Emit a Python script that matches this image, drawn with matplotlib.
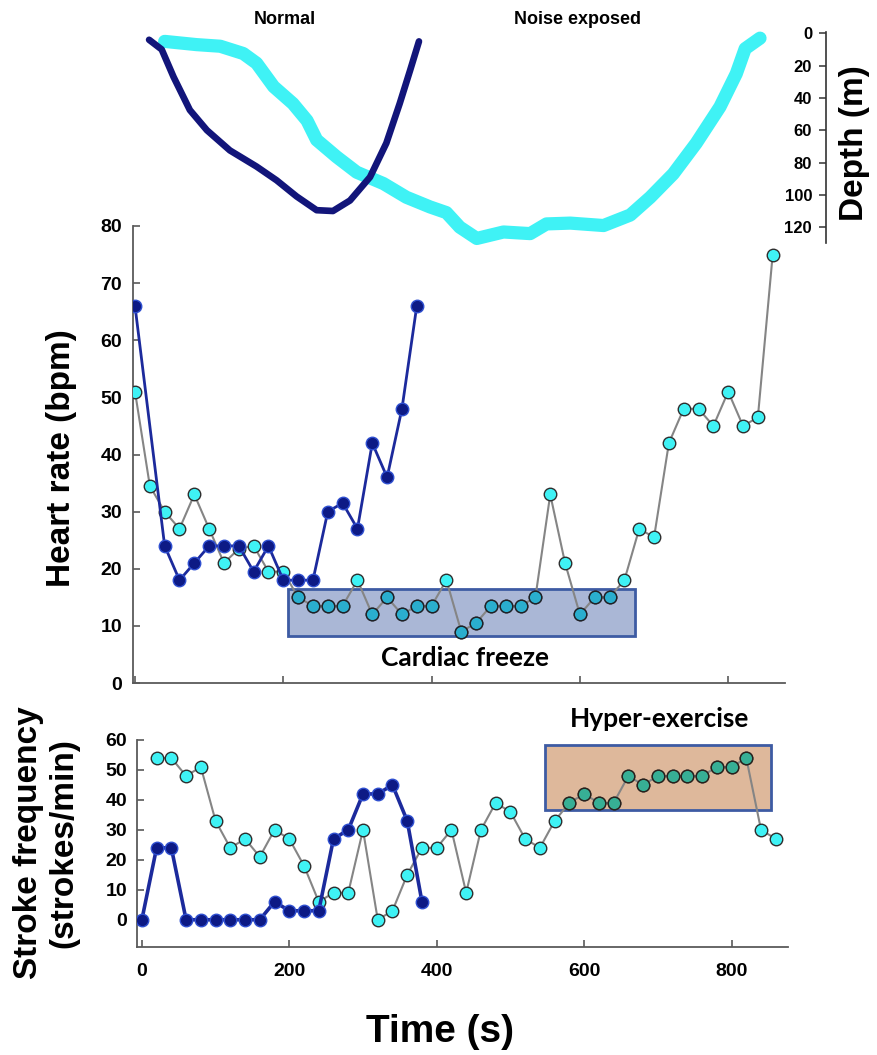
import matplotlib.pyplot as plt
import numpy as np
from matplotlib.colors import to_rgb
from matplotlib.patches import Rectangle

plt.rcParams["font.family"] = ["Liberation Sans", "DejaVu Sans"]
plt.rcParams["font.weight"] = "bold"

# --- heart rate (bpm) ---
hr_noise_time = [0, 20, 40, 60, 80, 100, 120, 140, 160, 180, 200, 220, 240, 260, 280,
                 300, 320, 340, 360, 380, 400, 420, 440, 460, 480, 500, 520, 540, 560,
                 580, 600, 620, 640, 660, 680, 700, 720, 740, 760, 780, 800, 820, 840, 860]
hr_noise = [51, 34.5, 30, 27, 33, 27, 21, 23.5, 24, 19.5, 19.5, 15, 13.5, 13.5, 13.5,
            18, 12, 15, 12, 13.5, 13.5, 18, 9, 10.5, 13.5, 13.5, 13.5, 15, 33,
            21, 12, 15, 15, 18, 27, 25.5, 42, 48, 48, 45, 51, 45, 46.5, 75]
hr_normal_time = [0, 40, 60, 80, 100, 120, 140, 160, 180, 200, 220, 240, 260, 280,
                  300, 320, 340, 360, 380]
hr_normal = [66, 24, 18, 21, 24, 24, 24, 19.5, 24, 18, 18, 18, 30, 31.5,
             27, 42, 36, 48, 66]

# --- stroke frequency (strokes/min) ---
sf_noise_time = [20, 40, 60, 80, 100, 120, 140, 160, 180, 200, 220, 240, 260, 280,
                 300, 320, 340, 360, 380, 400, 420, 440, 460, 480, 500, 520, 540, 560,
                 580, 600, 620, 640, 660, 680, 700, 720, 740, 760, 780, 800, 820, 840, 860]
sf_noise = [54, 54, 48, 51, 33, 24, 27, 21, 30, 27, 18, 6, 9, 9,
            30, 0, 3, 15, 24, 24, 30, 9, 30, 39, 36, 27, 24, 33,
            39, 42, 39, 39, 48, 45, 48, 48, 48, 48, 51, 51, 54, 30, 27]
sf_normal_time = [0, 20, 40, 60, 80, 100, 120, 140, 160, 180, 200, 220, 240, 260,
                  280, 300, 320, 340, 360, 380]
sf_normal = [0, 24, 24, 0, 0, 0, 0, 0, 0, 6, 3, 3, 3, 27, 30, 42, 42, 45, 33, 6]

# --- dive profiles (time s, depth m) ---
depth_normal_time = [19, 36, 52, 74, 97, 128, 164, 191, 218, 245, 267, 290, 317, 339,
                     357, 371, 383]
depth_normal = [4, 10, 27, 47.5, 60, 72.5, 82.5, 91, 101, 109.5, 110, 103.5, 89, 68,
                43.5, 23, 5]
depth_noise_time = [40, 83, 115, 146, 164, 187, 213, 232, 245, 272, 299, 335, 366, 398,
                    420, 438, 461, 497, 533, 555, 587, 632, 668, 695, 726, 757, 789,
                    811, 823, 843]
depth_noise = [5, 7, 8, 12.5, 18.5, 33, 43.5, 54, 66, 76.5, 86, 93, 101.5, 107.5,
               111, 120, 127, 123, 124, 118, 117.5, 119, 112.5, 101.5, 87, 68, 45.5,
               25, 9.5, 3]

# shaded phases: (t0, t1, y0, y1)
freeze_box = (206, 674, 8.2, 16.4)
hyper_box = (547, 853, 36.6, 58.4)

NAVY = "#0d1a85"
NAVY_EDGE = "#2f4fd0"
CYAN = "#3ff2f5"
CYAN_EDGE = "#2e2e2e"
GREY_LINE = "#858585"
SPINE = "#5a5a5a"
BOX_EDGE = "#3d5ba3"
FREEZE_FILL = "#aab7d6"
HYPER_FILL = "#deb89b"

W, H = 877, 1055


def px_axes(left, top, right, bottom):
    return [left / W, 1 - bottom / H, (right - left) / W, (bottom - top) / H]


def multiply(c1, c2):
    return tuple(a * b for a, b in zip(to_rgb(c1), to_rgb(c2)))


def style_axes(ax):
    for s in ("top", "right"):
        ax.spines[s].set_visible(False)
    for s in ("left", "bottom"):
        ax.spines[s].set_color(SPINE)
        ax.spines[s].set_linewidth(1.3)


def shade(ax, box, fill, t, v):
    t0, t1, y0, y1 = box
    ax.add_patch(Rectangle((t0, y0), t1 - t0, y1 - y0, facecolor=fill,
                           edgecolor=BOX_EDGE, lw=2, zorder=2))
    # markers seen through the tinted box
    t = np.asarray(t)
    v = np.asarray(v)
    m = (t >= t0) & (t <= t1) & (v >= y0) & (v <= y1)
    ax.plot(t[m], v[m], ls="none", marker="o", ms=9, mfc=multiply(CYAN, fill),
            mec=multiply(CYAN_EDGE, fill), mew=1.0, zorder=3.5)


fig = plt.figure(figsize=(W / 100, H / 100), dpi=100)

# heart rate panel
ax_hr = fig.add_axes(px_axes(133, 226, 785, 683))
ax_hr.patch.set_visible(False)
ax_hr.plot(hr_noise_time, hr_noise, color=GREY_LINE, lw=1.5, marker="o", ms=9,
           mfc=CYAN, mec=CYAN_EDGE, mew=1.0, zorder=3)
ax_hr.plot(hr_normal_time, hr_normal, color="#1c2a9c", lw=2, marker="o", ms=9,
           mfc=NAVY, mec=NAVY_EDGE, mew=1.0, zorder=4)
shade(ax_hr, freeze_box, FREEZE_FILL, hr_noise_time, hr_noise)
ax_hr.text(445, 4.4, "Cardiac freeze", ha="center", va="center", fontsize=19,
           family=["Lato", "DejaVu Sans"], fontweight="bold")
ax_hr.set_xlim(-2.7, 876.6)
ax_hr.set_ylim(0, 80)
ax_hr.set_xticks([0, 200, 400, 600, 800])
ax_hr.set_yticks(range(0, 81, 10))
ax_hr.tick_params(direction="in", length=5, width=1.2, color=SPINE, labelsize=14, pad=8)
ax_hr.tick_params(axis="x", labelbottom=False)
style_axes(ax_hr)
fig.text(62 / W, 1 - 458 / H, "Heart rate (bpm)", rotation=90, ha="center", va="center",
         fontsize=24)

# dive profile panel
ax_d = fig.add_axes(px_axes(133, 31.7, 826, 243.3))
ax_d.set_zorder(5)
ax_d.patch.set_visible(False)
ax_d.plot(depth_noise_time, depth_noise, color=CYAN, lw=9.5, solid_capstyle="round",
          solid_joinstyle="round", clip_on=False)
ax_d.plot(depth_normal_time, depth_normal, color="#12157a", lw=4.8, solid_capstyle="round",
          solid_joinstyle="round", clip_on=False)
ax_d.set_xlim(-2.7, 932)
ax_d.set_ylim(130, -1)
for s in ("top", "right", "bottom"):
    ax_d.spines[s].set_visible(False)
ax_d.spines["left"].set_position(("axes", 1.0))
ax_d.spines["left"].set_color("#333333")
ax_d.spines["left"].set_linewidth(1.2)
ax_d.set_xticks([])
ax_d.set_yticks([0, 20, 40, 60, 80, 100, 120])
ax_d.tick_params(axis="y", direction="out", length=5, width=1.1, color="#333333",
                 labelsize=12, pad=5)
fig.text(285 / W, 1 - 20 / H, "Normal", ha="center", va="center", fontsize=13)
fig.text(577 / W, 1 - 20 / H, "Noise exposed", ha="center", va="center", fontsize=13)
fig.text(855 / W, 1 - 143 / H, "Depth (m)", rotation=90, ha="center", va="center",
         fontsize=24)

# stroke frequency panel
ax_sf = fig.add_axes(px_axes(136.7, 740, 788.3, 946.7))
ax_sf.plot(sf_noise_time, sf_noise, color=GREY_LINE, lw=1.5, marker="o", ms=9,
           mfc=CYAN, mec=CYAN_EDGE, mew=1.0, zorder=3)
ax_sf.plot(sf_normal_time, sf_normal, color="#1c2a9c", lw=2.6, marker="o", ms=9,
           mfc=NAVY, mec=NAVY_EDGE, mew=1.0, zorder=4)
shade(ax_sf, hyper_box, HYPER_FILL, sf_noise_time, sf_noise)
ax_sf.text(702, 66.9, "Hyper-exercise", ha="center", va="center", fontsize=19,
           family=["Lato", "DejaVu Sans"], fontweight="bold", clip_on=False)
ax_sf.set_xlim(-7, 877)
ax_sf.set_ylim(-9, 60)
ax_sf.set_xticks([0, 200, 400, 600, 800])
ax_sf.set_yticks(range(0, 61, 10))
ax_sf.tick_params(direction="in", length=5, width=1.2, color=SPINE, labelsize=14)
ax_sf.tick_params(axis="x", pad=12)
ax_sf.tick_params(axis="y", pad=7)
style_axes(ax_sf)
fig.text(46 / W, 1 - 843 / H, "Stroke frequency\n(strokes/min)", rotation=90, ha="center",
         va="center", multialignment="center", fontsize=24, linespacing=1.2)

fig.text(440 / W, 1 - 1032 / H, "Time (s)", ha="center", va="center", fontsize=28)

fig.savefig("out.png", dpi=100)
